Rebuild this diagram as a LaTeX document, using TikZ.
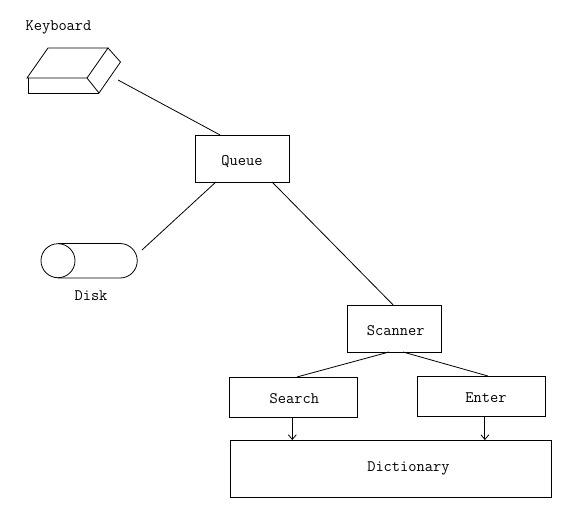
\documentclass[tikz,border=0pt]{standalone}
\usepackage{tikz}
\usetikzlibrary{positioning,arrows.meta}

\begin{document}
\begin{tikzpicture}[x=.75pt,y=-.75pt,line width=.6pt,>={Straight Barb[length=3.5pt,width=6pt]},
  lbl/.style={inner sep=0pt,font=\ttfamily\fontsize{12}{13}\selectfont},
  box/.style={rectangle,draw,outer sep=0pt,minimum width=70.5pt,minimum height=35.25pt,
    lbl,text height=11pt,text depth=1pt},
  wide/.style={box,minimum width=96pt,minimum height=30pt},
  dict/.style={box,minimum width=240.75pt,minimum height=42.75pt,text height=8pt,text depth=3pt},
  a/.style={->}]
  \useasboundingbox (0,0) rectangle (565,507);
  \node[box] (queue) at (242,158.5) {Queue};
  \node[box,below right=92.25pt and 43.5pt of queue] (scanner) {\hspace*{2.5pt}Scanner};
  \node[wide,below=18.75pt of scanner,xshift=-75.75pt] (search) {\hspace*{2pt}Search};
  \node[wide,right=45pt of search,yshift=.75pt] (enter) {\hspace*{7.5pt}Enter};
  \node[dict,below=17.25pt of search,xshift=73.1pt] (dictionary) {\hspace*{27pt}Dictionary};
  % keyboard
  \node[lbl] (kbdlabel) at (58.5,27.5) {Keyboard};
  \draw (27,78) -- (48,48) -- (108,48) -- (87,78) -- cycle;
  \draw (108,48) -- (120.5,62) -- (99,93) -- (87,78);
  \draw (28,78) -- (28,93) -- (99,93);
  \coordinate (kbdport) at (118,80);
  % disk
  \node[lbl] (disklabel) at (91,296) {Disk};
  \node[circle,draw,outer sep=0pt,inner sep=0pt,minimum size=25.5pt] (diskend) at (58,260.7) {};
  \draw (58,243.5) -- (120,243.5) arc[start angle=90,end angle=-90,radius=12.94pt] -- (58,278);
  \coordinate (diskport) at (142,250);
  \draw (kbdport)--(queue.133); \draw (diskport)--(queue.222); \draw (queue.322)--(scanner.92);
  \draw (scanner.258)--(search.79); \draw (scanner.291)--(enter.71);
  \draw[a](search.268)--(search.268 |- dictionary.north);
  \draw[a](enter.281)--(enter.281 |- dictionary.north);
\end{tikzpicture}
\end{document}
